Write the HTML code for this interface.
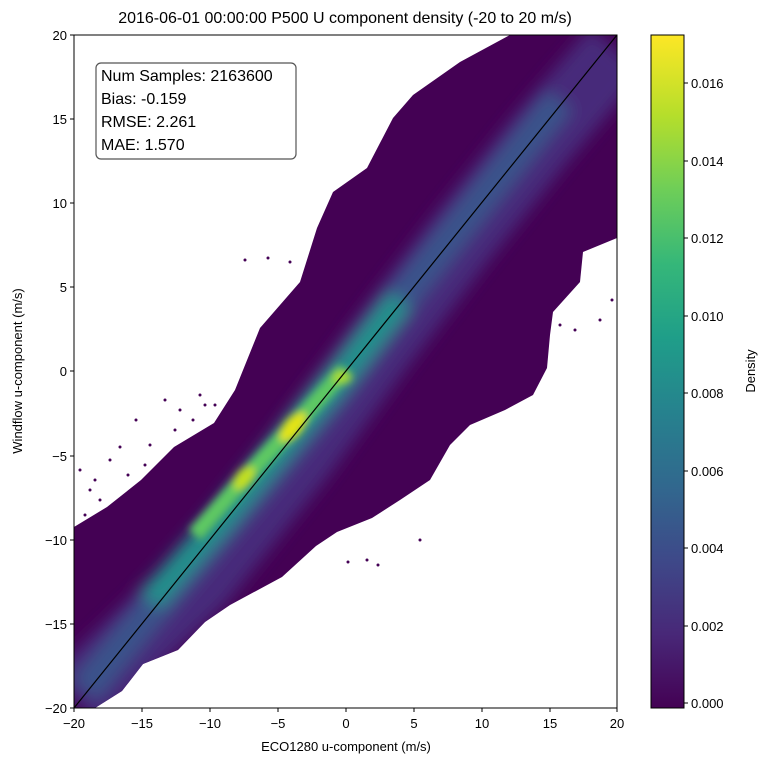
<!DOCTYPE html>
<html><head><meta charset="utf-8"><style>
body{margin:0;background:#fff;}
svg text{font-family:"Liberation Sans",sans-serif;fill:#000;}
</style></head><body>
<svg width="768" height="765" viewBox="0 0 768 765" xmlns="http://www.w3.org/2000/svg">
<defs>
<linearGradient id="vir" x1="0" y1="1" x2="0" y2="0">
<stop offset="0" stop-color="#440154"/><stop offset="0.11" stop-color="#482878"/>
<stop offset="0.22" stop-color="#3e4989"/><stop offset="0.33" stop-color="#31688e"/>
<stop offset="0.44" stop-color="#26828e"/><stop offset="0.55" stop-color="#1f9e89"/>
<stop offset="0.66" stop-color="#35b779"/><stop offset="0.77" stop-color="#6ece58"/>
<stop offset="0.88" stop-color="#b5de2b"/><stop offset="1" stop-color="#fde725"/>
</linearGradient>
<filter id="b8" x="-50%" y="-50%" width="200%" height="200%"><feGaussianBlur stdDeviation="8"/></filter>
<filter id="b4" x="-50%" y="-50%" width="200%" height="200%"><feGaussianBlur stdDeviation="4"/></filter>
<clipPath id="pc"><rect x="74" y="35" width="543" height="673"/></clipPath>
<clipPath id="bc"><polygon points="74,708 74,527 107,507 141,480 174,447 214,423 235,390 260,328 300,282 317,228 333,192 367,168 393,118 413,95 460,62 510,35 617,35 617,238 583,252 580,282 553,312 550,335 547,368 533,395 505,410 470,425 450,445 430,480 400,500 372,518 337,532 316,546 282,577 230,605 205,622 178,650 143,664 122,691 95,708"/></clipPath>
</defs>
<text x="345" y="23" font-size="16" text-anchor="middle">2016-06-01 00:00:00 P500 U component density (-20 to 20 m/s)</text>
<g clip-path="url(#pc)">
<g fill="#440154">
<circle cx="110" cy="460" r="1.5"/><circle cx="120" cy="447" r="1.5"/><circle cx="136" cy="420" r="1.5"/><circle cx="150" cy="445" r="1.5"/><circle cx="165" cy="400" r="1.5"/><circle cx="180" cy="410" r="1.5"/><circle cx="193" cy="420" r="1.5"/><circle cx="205" cy="405" r="1.5"/><circle cx="90" cy="490" r="1.5"/><circle cx="100" cy="500" r="1.5"/><circle cx="80" cy="470" r="1.5"/><circle cx="128" cy="475" r="1.5"/><circle cx="160" cy="465" r="1.5"/><circle cx="245" cy="260" r="1.5"/><circle cx="268" cy="258" r="1.5"/><circle cx="290" cy="262" r="1.5"/><circle cx="378" cy="565" r="1.5"/><circle cx="348" cy="562" r="1.5"/><circle cx="367" cy="560" r="1.5"/><circle cx="420" cy="540" r="1.5"/><circle cx="560" cy="325" r="1.5"/><circle cx="575" cy="330" r="1.5"/><circle cx="600" cy="320" r="1.5"/><circle cx="612" cy="300" r="1.5"/>
<circle cx="85" cy="515" r="1.5"/><circle cx="95" cy="480" r="1.5"/><circle cx="145" cy="465" r="1.5"/><circle cx="175" cy="430" r="1.5"/><circle cx="200" cy="395" r="1.5"/><circle cx="215" cy="405" r="1.5"/>
</g>
<polygon fill="#440154" points="74,708 74,527 107,507 141,480 174,447 214,423 235,390 260,328 300,282 317,228 333,192 367,168 393,118 413,95 460,62 510,35 617,35 617,238 583,252 580,282 553,312 550,335 547,368 533,395 505,410 470,425 450,445 430,480 400,500 372,518 337,532 316,546 282,577 230,605 205,622 178,650 143,664 122,691 95,708"/>
<g clip-path="url(#bc)">
<g filter="url(#b8)">
<polyline points="74,700 200,580 300,455 380,345 460,240 540,140 617,50" fill="none" stroke="#472c7a" stroke-width="70"/>
<polyline points="85,690 180,575 260,480 330,395 400,300 480,200 560,100" fill="none" stroke="#3b528b" stroke-width="32"/>
<polyline points="150,600 220,520 290,435 345,370 400,300" fill="none" stroke="#21918c" stroke-width="26"/>
</g>
<g filter="url(#b4)">
<polyline points="195,535 245,478 292,428 345,370" fill="none" stroke="#5ec962" stroke-width="16"/>
<ellipse cx="293" cy="427" rx="18" ry="9" fill="#e3e418" transform="rotate(-50 293 427)"/>
<ellipse cx="244" cy="478" rx="14" ry="8" fill="#c2df23" transform="rotate(-50 244 478)"/>
<ellipse cx="342" cy="377" rx="10" ry="7" fill="#a8db34"/>
</g>
</g>
</g>
<line x1="74" y1="708" x2="617" y2="35" stroke="#000" stroke-width="1.2"/>
<rect x="74" y="35" width="543" height="673" fill="none" stroke="#000" stroke-width="1"/>
<rect x="96" y="63" width="200" height="96" rx="5" fill="#fff" fill-opacity="0.85" stroke="#555" stroke-width="1.2"/>
<text font-size="16"><tspan x="101" y="81">Num Samples: 2163600</tspan><tspan x="101" y="104">Bias: -0.159</tspan><tspan x="101" y="127">RMSE: 2.261</tspan><tspan x="101" y="150">MAE: 1.570</tspan></text>
<g font-size="13" text-anchor="middle">
<text x="74" y="728">−20</text><text x="142" y="728">−15</text><text x="210" y="728">−10</text><text x="278" y="728">−5</text><text x="346" y="728">0</text><text x="414" y="728">5</text><text x="482" y="728">10</text><text x="550" y="728">15</text><text x="617" y="728">20</text>
</g>
<g stroke="#000"><line x1="74" y1="708" x2="74" y2="712"/><line x1="142" y1="708" x2="142" y2="712"/><line x1="210" y1="708" x2="210" y2="712"/><line x1="278" y1="708" x2="278" y2="712"/><line x1="346" y1="708" x2="346" y2="712"/><line x1="414" y1="708" x2="414" y2="712"/><line x1="482" y1="708" x2="482" y2="712"/><line x1="550" y1="708" x2="550" y2="712"/><line x1="617" y1="708" x2="617" y2="712"/>
<line x1="70" y1="35" x2="74" y2="35"/><line x1="70" y1="119" x2="74" y2="119"/><line x1="70" y1="203" x2="74" y2="203"/><line x1="70" y1="287" x2="74" y2="287"/><line x1="70" y1="371" x2="74" y2="371"/><line x1="70" y1="456" x2="74" y2="456"/><line x1="70" y1="540" x2="74" y2="540"/><line x1="70" y1="624" x2="74" y2="624"/><line x1="70" y1="708" x2="74" y2="708"/></g>
<g font-size="13" text-anchor="end">
<text x="67" y="40">20</text><text x="67" y="124">15</text><text x="67" y="208">10</text><text x="67" y="292">5</text><text x="67" y="376">0</text><text x="67" y="461">−5</text><text x="67" y="545">−10</text><text x="67" y="629">−15</text><text x="67" y="713">−20</text>
</g>
<text x="346" y="751" font-size="13" text-anchor="middle">ECO1280 u-component (m/s)</text>
<text transform="translate(22 371) rotate(-90)" font-size="13" text-anchor="middle">Windflow u-component (m/s)</text>
<rect x="651" y="35" width="33" height="673" fill="url(#vir)" stroke="#000" stroke-width="1"/>
<g stroke="#000"><line x1="684" y1="703" x2="688" y2="703"/><line x1="684" y1="626" x2="688" y2="626"/><line x1="684" y1="548" x2="688" y2="548"/><line x1="684" y1="471" x2="688" y2="471"/><line x1="684" y1="393" x2="688" y2="393"/><line x1="684" y1="316" x2="688" y2="316"/><line x1="684" y1="238" x2="688" y2="238"/><line x1="684" y1="161" x2="688" y2="161"/><line x1="684" y1="83" x2="688" y2="83"/></g>
<g font-size="13">
<text x="691" y="708">0.000</text><text x="691" y="631">0.002</text><text x="691" y="553">0.004</text><text x="691" y="476">0.006</text><text x="691" y="398">0.008</text><text x="691" y="321">0.010</text><text x="691" y="243">0.012</text><text x="691" y="166">0.014</text><text x="691" y="88">0.016</text>
</g>
<text transform="translate(755 371) rotate(-90)" font-size="13" text-anchor="middle">Density</text>
</svg>
</body></html>
